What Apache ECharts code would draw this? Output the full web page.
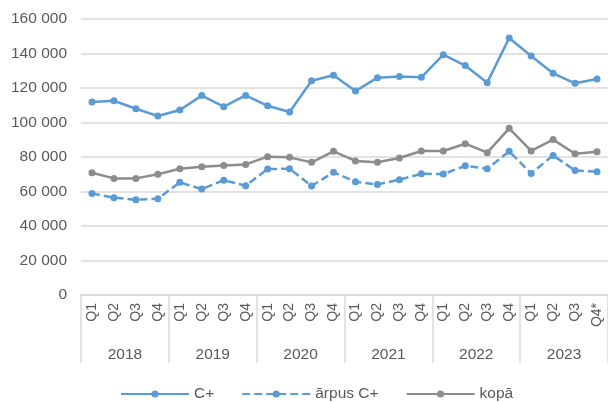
<!DOCTYPE html>
<html>
<head>
<meta charset="utf-8">
<script src="https://cdn.jsdelivr.net/npm/echarts@6/dist/echarts.min.js"></script>
<style>html,body{margin:0;padding:0;background:#fff}#c{width:608px;height:402px}</style>
</head>
<body>
<div id="c"></div>
<script>
const quarters = ['Q1','Q2','Q3','Q4','Q1','Q2','Q3','Q4','Q1','Q2','Q3','Q4','Q1','Q2','Q3','Q4','Q1','Q2','Q3','Q4','Q1','Q2','Q3','Q4*'];
const years = ['2018','2019','2020','2021','2022','2023'];
const cPlus = [111900,112600,108000,103800,107200,115600,109200,115700,109700,106100,124200,127400,118200,126000,126700,126200,139300,133000,123100,149000,138500,128500,122700,125200];
const arpusCPlus = [58900,56400,55200,55800,65300,61400,66500,63400,73000,73200,63200,71100,65700,64100,66800,70300,70100,74900,73200,83300,70500,80900,72200,71500];
const kopa = [70900,67600,67600,70000,73200,74400,75100,75700,80200,79800,76900,83300,77700,76900,79400,83500,83500,87700,82500,96600,83500,90100,81900,83100];
const yTicks = [0,20000,40000,60000,80000,100000,120000,140000,160000];

const FONT = 'Liberation Sans, Arial, sans-serif';
const TXT = '#595959';
const GRID = '#d9d9d9';
const BLUE = '#5B9BD5';
const GRAY = '#8C8C8C';

const chart = echarts.init(document.getElementById('c'));
function fmt(v){ return String(v).replace(/\B(?=(\d{3})+(?!\d))/g, ' '); }
function mk(name, data, color, dashed){
  return {
    name, type:'line', data, xAxisIndex:0,
    symbol:'circle', symbolSize:7, showAllSymbol:true,
    itemStyle:{color},
    lineStyle:{color, width:2.5, type: dashed ? [8,4] : 'solid'},
    emphasis:{disabled:true}, animation:false
  };
}
chart.setOption({
  animation:false,
  textStyle:{fontFamily:FONT},
  grid:{left:81, top:19, bottom:107, width:529, containLabel:false},
  legend:{
    left:115, top:381, itemWidth:68, itemHeight:9, itemGap:27,
    textStyle:{color:TXT, fontSize:15.5, fontFamily:FONT},
    data:['C+','ārpus C+','kopā']
  },
  xAxis:[
    {type:'category', data:quarters, position:'bottom',
     axisLine:{show:true, lineStyle:{color:GRID, width:1.5}},
     axisTick:{show:false},
     axisLabel:{rotate:90, margin:8, color:TXT, fontSize:14, fontFamily:FONT, interval:0}},
    {type:'category', data:years, position:'bottom', offset:0,
     axisLine:{show:false},
     axisTick:{show:true, length:68, interval:0, lineStyle:{color:GRID, width:1.5}},
     axisLabel:{margin:52, color:TXT, fontSize:15.5, fontFamily:FONT, interval:0}}
  ],
  yAxis:{type:'value', min:yTicks[0], max:yTicks[yTicks.length-1], interval:yTicks[1]-yTicks[0],
    axisLine:{show:false}, axisTick:{show:false},
    splitLine:{lineStyle:{color:GRID, width:1.5}},
    axisLabel:{margin:14, color:TXT, fontSize:15.5, fontFamily:FONT, formatter:fmt}},
  series:[
    mk('C+', cPlus, BLUE, false),
    mk('ārpus C+', arpusCPlus, BLUE, true),
    mk('kopā', kopa, GRAY, false)
  ]
});
</script>
</body>
</html>
